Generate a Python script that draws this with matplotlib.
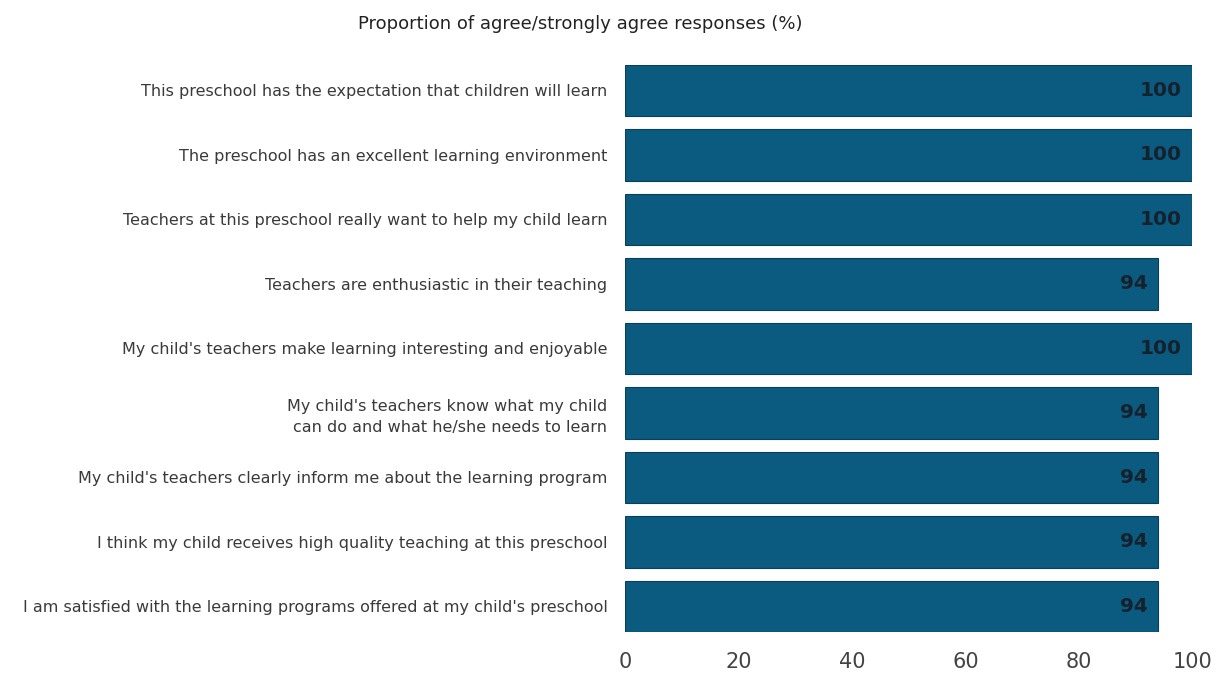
import matplotlib.pyplot as plt

# Data
labels = [
    "This preschool has the expectation that children will learn",
    "The preschool has an excellent learning environment",
    "Teachers at this preschool really want to help my child learn",
    "Teachers are enthusiastic in their teaching",
    "My child's teachers make learning interesting and enjoyable",
    "My child's teachers know what my child\ncan do and what he/she needs to learn",
    "My child's teachers clearly inform me about the learning program",
    "I think my child receives high quality teaching at this preschool",
    "I am satisfied with the learning programs offered at my child's preschool",
]
values = [100, 100, 100, 94, 100, 94, 94, 94, 94]
xticks = [0, 20, 40, 60, 80, 100]

fig = plt.figure(figsize=(12.24, 6.74), dpi=100)
ax = fig.add_axes([0.511, 0.062, 0.463, 0.842])

pos = list(range(len(labels)))
ax.barh(pos, values, height=0.8, color="#0b5a7f", edgecolor="#083f5a", linewidth=0.8)

for p, v in zip(pos, values):
    ax.text(v - 1.8, p, str(v), ha="right", va="center", fontsize=14.5,
            color="#15222e", fontweight="semibold")

ax.set_ylim(len(labels) - 0.6, -0.4)
ax.set_xlim(0, 100)
ax.set_yticks(pos)
ax.set_yticklabels(labels, fontsize=11.5, color="#3a3a3a", linespacing=1.5)
ax.set_xticks(xticks)
ax.set_xticklabels([str(t) for t in xticks], fontsize=15, color="#444444")
ax.tick_params(axis="both", length=0)
ax.tick_params(axis="y", pad=13)
ax.tick_params(axis="x", pad=14)
for s in ax.spines.values():
    s.set_visible(False)

fig.text(0.474, 0.965, "Proportion of agree/strongly agree responses (%)",
         ha="center", va="center", fontsize=13, color="#222222")

fig.savefig("out.png", dpi=100, facecolor="white")
